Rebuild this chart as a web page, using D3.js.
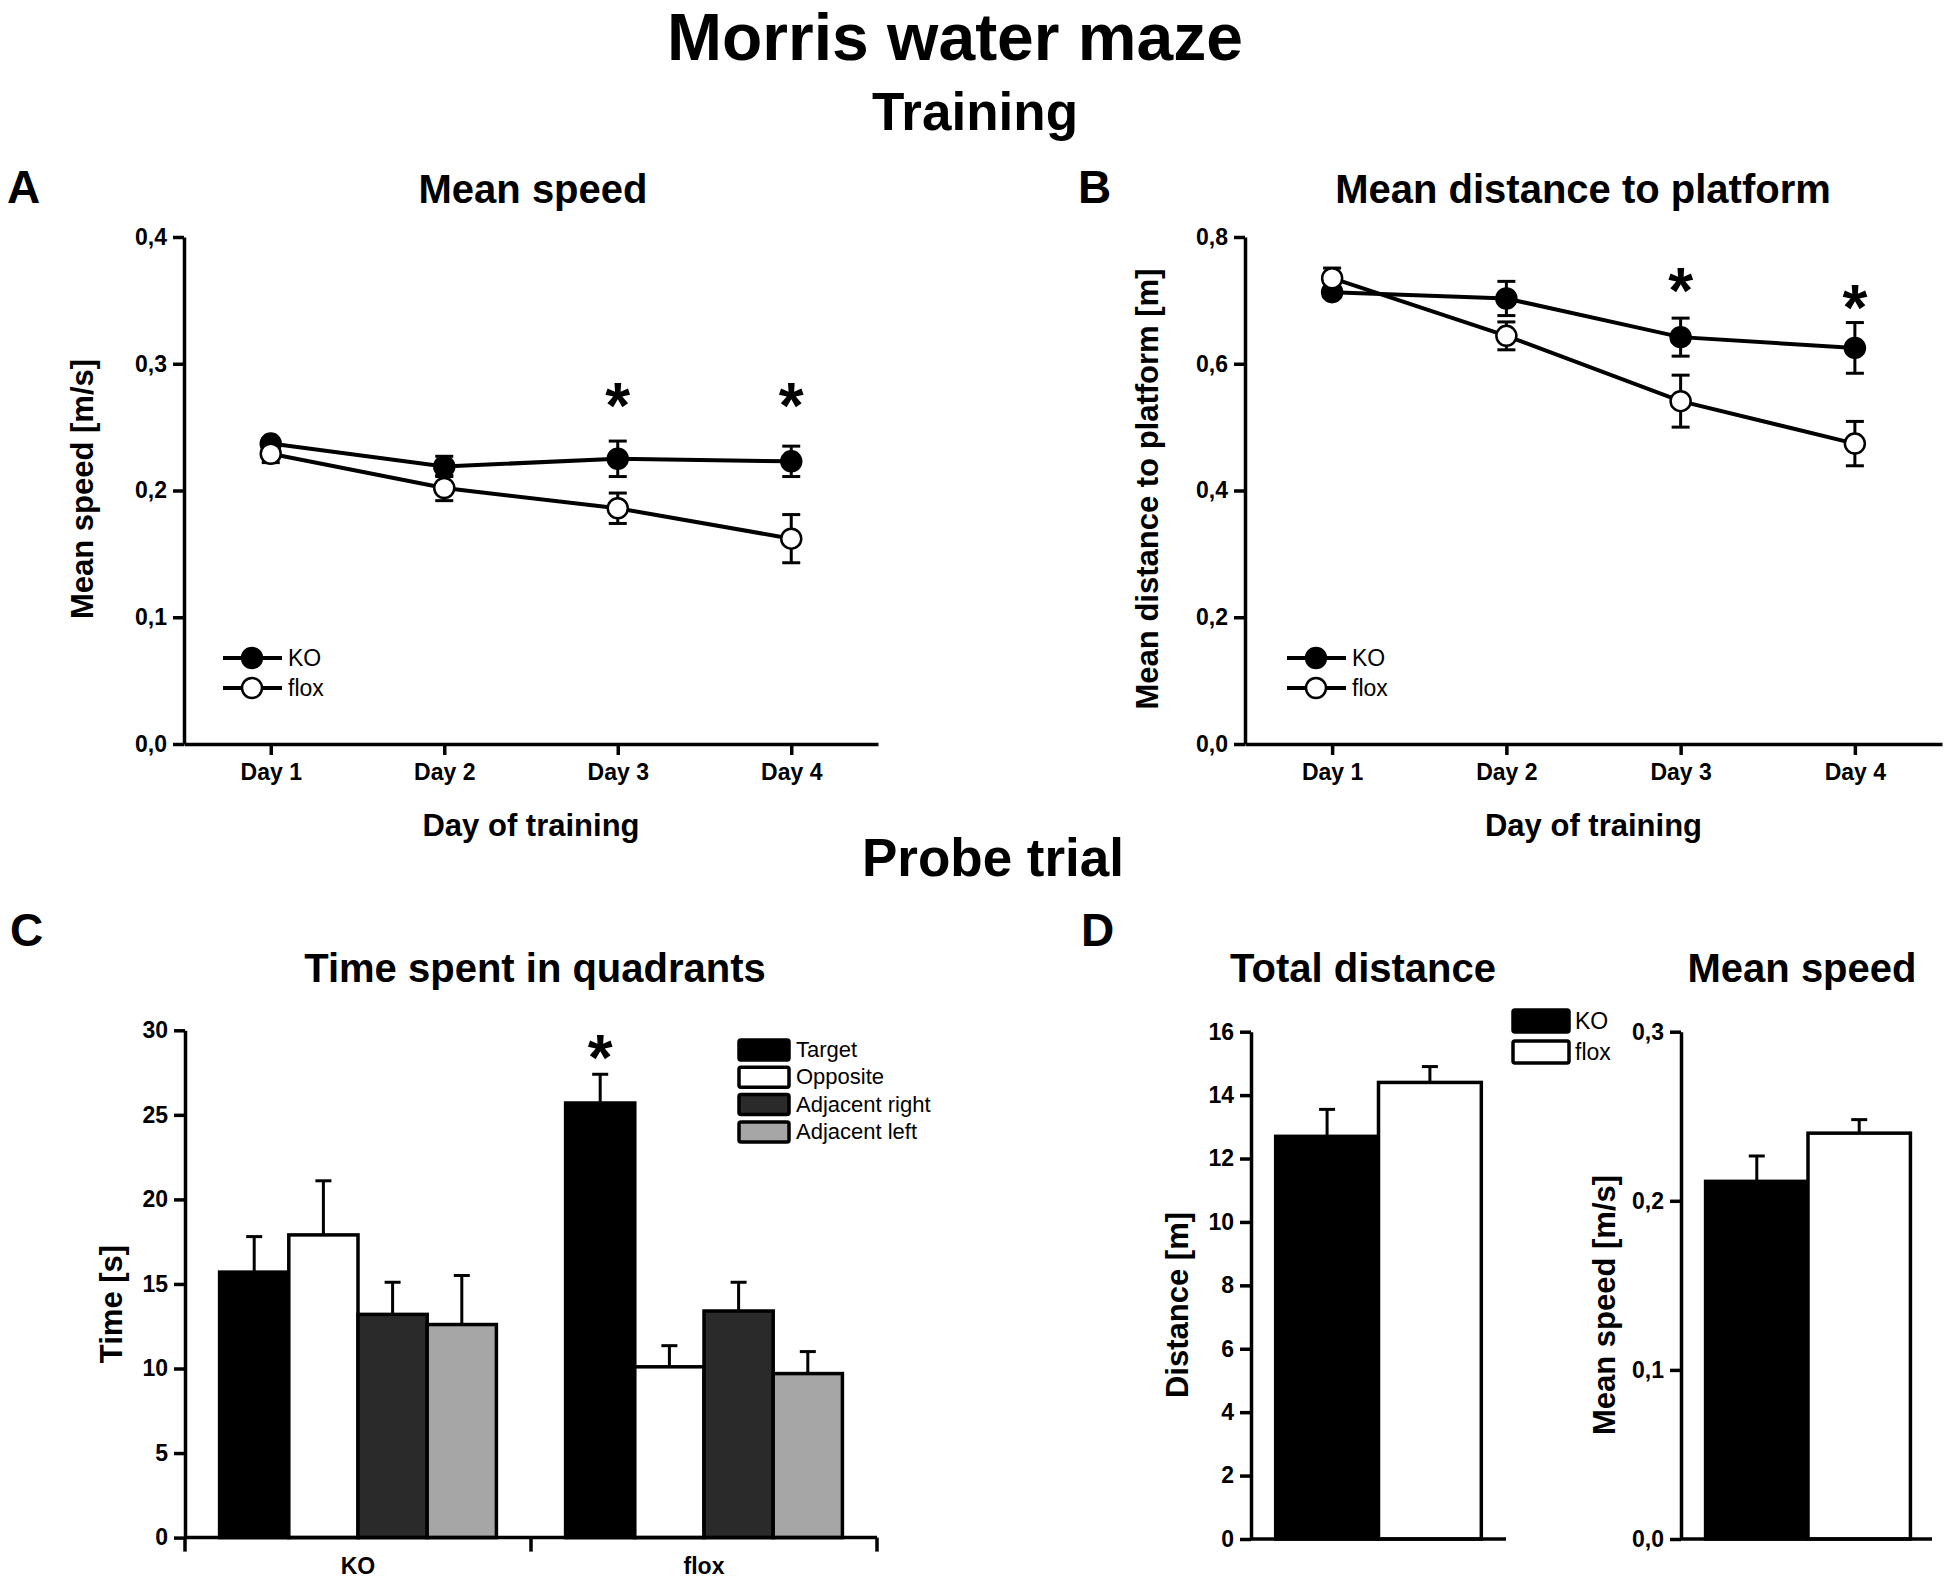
<!DOCTYPE html>
<html lang="en">
<head>
<meta charset="utf-8">
<script src="https://d3js.org/d3.v7.min.js"></script>
<style>
body { margin: 0; background: #fff; }
svg text { font-family: "Liberation Sans", Arial, sans-serif; fill: #000; }
.axis path, .axis line { stroke: #000; stroke-width: 3.5; fill: none; }
.axis text { font-size: 23px; font-weight: bold; }
</style>
</head>
<body>
<script>
// ---- data ----
var days = ["Day 1", "Day 2", "Day 3", "Day 4"];

// A: mean speed during training [m/s]
var speedKO      = [0.237, 0.219, 0.225, 0.223];
var speedKOErr   = [0.004, 0.008, 0.014, 0.012];
var speedFlox    = [0.229, 0.202, 0.186, 0.162];
var speedFloxErr = [0.007, 0.010, 0.012, 0.019];
var speedTicks   = [0, 0.1, 0.2, 0.3, 0.4];
var speedStars   = [{day: "Day 3", v: 0.278}, {day: "Day 4", v: 0.278}];

// B: mean distance to platform [m]
var distKO      = [0.713, 0.703, 0.642, 0.625];
var distKOErr   = [0.008, 0.027, 0.030, 0.040];
var distFlox    = [0.735, 0.644, 0.541, 0.474];
var distFloxErr = [0.016, 0.022, 0.041, 0.035];
var distTicks   = [0, 0.2, 0.4, 0.6, 0.8];
var distStars   = [{day: "Day 3", v: 0.738}, {day: "Day 4", v: 0.711}];

// C: time spent in quadrants [s]
var groups    = ["KO", "flox"];
var quadrants = ["Target", "Opposite", "Adjacent right", "Adjacent left"];
var quadColors = ["#000000", "#ffffff", "#2a2a2a", "#a6a6a6"];
var timeKO      = [15.7, 17.9, 13.2, 12.6];
var timeKOErr   = [2.1, 3.2, 1.9, 2.9];
var timeFlox    = [25.7, 10.1, 13.4, 9.7];
var timeFloxErr = [1.7, 1.25, 1.7, 1.3];
var timeTicks   = [0, 5, 10, 15, 20, 25, 30];
var timeStar    = {group: "flox", q: "Target", v: 29.2};

// D: probe trial totals
var totalDist    = [12.7, 14.4];
var totalDistErr = [0.85, 0.5];
var totalDistTicks = [0, 2, 4, 6, 8, 10, 12, 14, 16];
var probeSpeed    = [0.2115, 0.240];
var probeSpeedErr = [0.015, 0.008];
var probeSpeedTicks = [0, 0.1, 0.2, 0.3];
var genotypeColors = ["#000000", "#ffffff"];

var fmtComma = d3.formatLocale({decimal: ",", thousands: ".", grouping: [3], currency: ["", ""]}).format(".1f");

var svg = d3.select("body").append("svg").attr("width", 1950).attr("height", 1581);

function heading(x, y, size, txt, anchor) {
  svg.append("text").attr("x", x).attr("y", y)
    .attr("font-size", size).attr("font-weight", "bold")
    .attr("text-anchor", anchor || "middle").text(txt);
}

function yLabel(x, y, txt) {
  svg.append("text").attr("transform", "translate(" + x + "," + y + ") rotate(-90)")
    .attr("text-anchor", "middle").attr("font-size", 31).attr("font-weight", "bold").text(txt);
}

function star(g, x, y) {
  var fs = 64;
  g.append("text").attr("x", x).attr("y", y + 0.57 * fs)
    .attr("text-anchor", "middle").attr("font-size", fs).attr("font-weight", "bold").text("*");
}

// titles
heading(955, 60, 66, "Morris water maze");
heading(975, 130, 53, "Training");
heading(993, 876, 53, "Probe trial");
heading(7, 203, 46, "A", "start");
heading(1078, 203, 46, "B", "start");
heading(10, 946, 46, "C", "start");
heading(1081, 946, 46, "D", "start");
heading(533, 203, 40, "Mean speed");
heading(1583, 203, 40, "Mean distance to platform");
heading(535, 982, 40, "Time spent in quadrants");
heading(1363, 982, 40, "Total distance");
heading(1802, 982, 40, "Mean speed");

// ---- training line charts ----
function linePanel(p) {
  var x = d3.scalePoint().domain(days).range([p.left, p.right]).padding(0.5);
  var y = d3.scaleLinear().domain([0, p.max]).range([744, 237]);
  var g = svg.append("g");

  g.append("g").attr("class", "axis").attr("transform", "translate(0,744)")
    .call(d3.axisBottom(x).tickSize(11).tickPadding(9).tickSizeOuter(0));
  g.append("g").attr("class", "axis").attr("transform", "translate(" + p.left + ",0)")
    .call(d3.axisLeft(y).tickValues(p.ticks).tickSize(11).tickPadding(6).tickSizeOuter(0).tickFormat(fmtComma));

  g.append("text").attr("x", (x("Day 1") + x("Day 4")) / 2).attr("y", 836)
    .attr("text-anchor", "middle").attr("font-size", 31).attr("font-weight", "bold").text("Day of training");

  var series = [
    {v: p.ko, e: p.koErr, fill: "#000"},
    {v: p.flox, e: p.floxErr, fill: "#fff"}
  ];
  series.forEach(function(s) {
    s.pts = days.map(function(d, i) { return {day: d, v: s.v[i], e: s.e[i]}; });
    g.append("path").datum(s.pts)
      .attr("fill", "none").attr("stroke", "#000").attr("stroke-width", 4)
      .attr("d", d3.line().x(function(d) { return x(d.day); }).y(function(d) { return y(d.v); }));
    var eb = g.append("g").attr("stroke", "#000").attr("stroke-width", 3)
      .selectAll("g").data(s.pts).enter().append("g");
    eb.append("line")
      .attr("x1", function(d) { return x(d.day); }).attr("x2", function(d) { return x(d.day); })
      .attr("y1", function(d) { return y(d.v - d.e); }).attr("y2", function(d) { return y(d.v + d.e); });
    [-1, 1].forEach(function(sg) {
      eb.append("line")
        .attr("x1", function(d) { return x(d.day) - 9; }).attr("x2", function(d) { return x(d.day) + 9; })
        .attr("y1", function(d) { return y(d.v + sg * d.e); }).attr("y2", function(d) { return y(d.v + sg * d.e); });
    });
  });
  series.forEach(function(s) {
    g.append("g").selectAll("circle").data(s.pts).enter().append("circle")
      .attr("cx", function(d) { return x(d.day); }).attr("cy", function(d) { return y(d.v); })
      .attr("r", 10).attr("fill", s.fill).attr("stroke", "#000").attr("stroke-width", 2.5);
  });

  p.stars.forEach(function(s) { star(g, x(s.day), y(s.v)); });

  // legend
  var names = ["KO", "flox"];
  names.forEach(function(n, i) {
    var ly = 658 + i * 30;
    g.append("line").attr("x1", p.legX).attr("x2", p.legX + 59).attr("y1", ly).attr("y2", ly)
      .attr("stroke", "#000").attr("stroke-width", 4);
    g.append("circle").attr("cx", p.legX + 29).attr("cy", ly).attr("r", 10)
      .attr("fill", series[i].fill).attr("stroke", "#000").attr("stroke-width", 2.5);
    g.append("text").attr("x", p.legX + 65).attr("y", ly + 8).attr("font-size", 23).text(n);
  });

  yLabel(p.labelX, 489, p.label);
}

linePanel({left: 184, right: 878, max: 0.4, ticks: speedTicks,
  ko: speedKO, koErr: speedKOErr, flox: speedFlox, floxErr: speedFloxErr,
  stars: speedStars, legX: 223, labelX: 93, label: "Mean speed [m/s]"});

linePanel({left: 1245, right: 1942, max: 0.8, ticks: distTicks,
  ko: distKO, koErr: distKOErr, flox: distFlox, floxErr: distFloxErr,
  stars: distStars, legX: 1287, labelX: 1158, label: "Mean distance to platform [m]"});

// ---- C: grouped bars ----
(function() {
  var y0 = 1537.6;
  var x = d3.scaleBand().domain(groups).range([185, 877]).paddingInner(0.2).paddingOuter(0.1);
  var xq = d3.scaleBand().domain(quadrants).range([0, x.bandwidth()]);
  var y = d3.scaleLinear().domain([0, 30]).range([y0, 1030.3]);
  var g = svg.append("g");
  var vals = {KO: timeKO, flox: timeFlox};
  var errs = {KO: timeKOErr, flox: timeFloxErr};

  var rows = [];
  groups.forEach(function(gr) {
    quadrants.forEach(function(q, i) {
      rows.push({g: gr, q: q, v: vals[gr][i], e: errs[gr][i], c: quadColors[i]});
    });
  });

  var eb = g.append("g").attr("stroke", "#000").attr("stroke-width", 3)
    .selectAll("g").data(rows).enter().append("g");
  eb.append("line")
    .attr("x1", function(d) { return x(d.g) + xq(d.q) + xq.bandwidth() / 2; })
    .attr("x2", function(d) { return x(d.g) + xq(d.q) + xq.bandwidth() / 2; })
    .attr("y1", function(d) { return y(d.v); }).attr("y2", function(d) { return y(d.v + d.e); });
  eb.append("line")
    .attr("x1", function(d) { return x(d.g) + xq(d.q) + xq.bandwidth() / 2 - 8; })
    .attr("x2", function(d) { return x(d.g) + xq(d.q) + xq.bandwidth() / 2 + 8; })
    .attr("y1", function(d) { return y(d.v + d.e); }).attr("y2", function(d) { return y(d.v + d.e); });

  g.append("g").selectAll("rect").data(rows).enter().append("rect")
    .attr("x", function(d) { return x(d.g) + xq(d.q); })
    .attr("y", function(d) { return y(d.v); })
    .attr("width", xq.bandwidth())
    .attr("height", function(d) { return y0 - y(d.v); })
    .attr("fill", function(d) { return d.c; })
    .attr("stroke", "#000").attr("stroke-width", 3.5);

  // x axis: line, ticks at band boundaries, labels at band centres
  var ax = g.append("g").attr("class", "axis");
  ax.append("line").attr("x1", 185).attr("x2", 877).attr("y1", y0).attr("y2", y0);
  var step = x.step();
  [0, 1, 2].forEach(function(i) {
    var tx = 185 + i * step;
    ax.append("line").attr("x1", tx).attr("x2", tx).attr("y1", y0).attr("y2", y0 + 14);
  });
  groups.forEach(function(gr) {
    ax.append("text").attr("x", x(gr) + x.bandwidth() / 2).attr("y", 1574)
      .attr("text-anchor", "middle").text(gr);
  });

  g.append("g").attr("class", "axis").attr("transform", "translate(185,0)")
    .call(d3.axisLeft(y).tickValues(timeTicks).tickSize(11).tickPadding(6).tickSizeOuter(0).tickFormat(d3.format("d")));

  star(g, x(timeStar.group) + xq(timeStar.q) + xq.bandwidth() / 2, y(timeStar.v));

  // legend
  quadrants.forEach(function(q, i) {
    var ly = 1040 + i * 27.3;
    g.append("rect").attr("x", 739).attr("y", ly).attr("width", 50).attr("height", 20).attr("rx", 2)
      .attr("fill", quadColors[i]).attr("stroke", "#000").attr("stroke-width", 3.5);
    g.append("text").attr("x", 796).attr("y", ly + 17).attr("font-size", 22).text(q);
  });

  yLabel(122, 1304, "Time [s]");
})();

// ---- D: two-bar panels ----
function twoBarPanel(p) {
  var y0 = 1539;
  var x = d3.scaleBand().domain(groups).range([p.left, p.right]).paddingInner(0).paddingOuter(0.24);
  var y = d3.scaleLinear().domain([0, p.max]).range([y0, 1031.7]);
  var g = svg.append("g");
  var rows = groups.map(function(gr, i) { return {g: gr, v: p.vals[i], e: p.errs[i], c: genotypeColors[i]}; });

  var eb = g.append("g").attr("stroke", "#000").attr("stroke-width", 3)
    .selectAll("g").data(rows).enter().append("g");
  eb.append("line")
    .attr("x1", function(d) { return x(d.g) + x.bandwidth() / 2; })
    .attr("x2", function(d) { return x(d.g) + x.bandwidth() / 2; })
    .attr("y1", function(d) { return y(d.v); }).attr("y2", function(d) { return y(d.v + d.e); });
  eb.append("line")
    .attr("x1", function(d) { return x(d.g) + x.bandwidth() / 2 - 8; })
    .attr("x2", function(d) { return x(d.g) + x.bandwidth() / 2 + 8; })
    .attr("y1", function(d) { return y(d.v + d.e); }).attr("y2", function(d) { return y(d.v + d.e); });

  g.append("g").selectAll("rect").data(rows).enter().append("rect")
    .attr("x", function(d) { return x(d.g); })
    .attr("y", function(d) { return y(d.v); })
    .attr("width", x.bandwidth())
    .attr("height", function(d) { return y0 - y(d.v); })
    .attr("fill", function(d) { return d.c; })
    .attr("stroke", "#000").attr("stroke-width", 3.5);

  g.append("g").attr("class", "axis").append("line")
    .attr("x1", p.left).attr("x2", p.axisEnd).attr("y1", y0).attr("y2", y0);
  g.append("g").attr("class", "axis").attr("transform", "translate(" + p.left + ",0)")
    .call(d3.axisLeft(y).tickValues(p.ticks).tickSize(11).tickPadding(6).tickSizeOuter(0).tickFormat(p.fmt));

  yLabel(p.labelX, 1305, p.label);
}

twoBarPanel({left: 1251, right: 1506, axisEnd: 1506, max: 16, ticks: totalDistTicks,
  vals: totalDist, errs: totalDistErr, fmt: d3.format("d"), labelX: 1188, label: "Distance [m]"});
twoBarPanel({left: 1681, right: 1935, axisEnd: 1932, max: 0.3, ticks: probeSpeedTicks,
  vals: probeSpeed, errs: probeSpeedErr, fmt: fmtComma, labelX: 1615, label: "Mean speed [m/s]"});

// D legend
groups.forEach(function(gr, i) {
  var ly = 1010 + i * 31;
  svg.append("rect").attr("x", 1513).attr("y", ly).attr("width", 56).attr("height", 22).attr("rx", 2)
    .attr("fill", genotypeColors[i]).attr("stroke", "#000").attr("stroke-width", 3.5);
  svg.append("text").attr("x", 1575).attr("y", ly + 19).attr("font-size", 23).text(gr);
});
</script>
</body>
</html>
